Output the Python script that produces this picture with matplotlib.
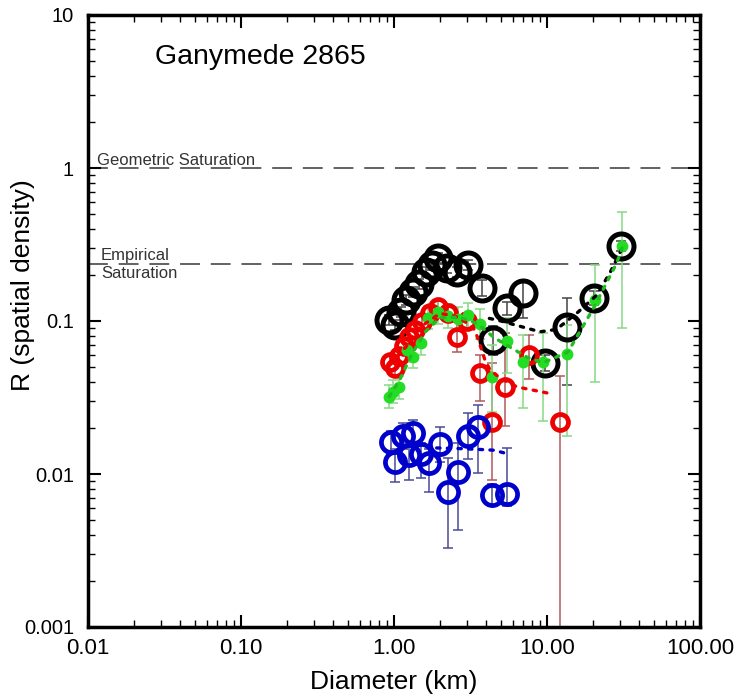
import numpy as np
import matplotlib
matplotlib.use('Agg')
import matplotlib.pyplot as plt
from matplotlib.ticker import FixedLocator, FixedFormatter, LogLocator, NullFormatter

plt.rcParams['font.family'] = ['Liberation Sans', 'DejaVu Sans']

# ---- data ----
# black: all craters
blk_d = [0.927, 1.015, 1.11, 1.198, 1.331, 1.457, 1.618, 1.771, 1.938, 2.22, 2.58, 3.04,
         3.76, 4.43, 5.47, 6.97, 9.70, 13.5, 20.3, 30.5]
blk_r = [0.1016, 0.0942, 0.1145, 0.137, 0.155, 0.1746, 0.209, 0.232, 0.258, 0.222, 0.209, 0.232,
         0.164, 0.0751, 0.1216, 0.1525, 0.0531, 0.0914, 0.1413, 0.309]
blk_lo = [0.094, 0.087, 0.106, 0.127, 0.144, 0.162, 0.194, 0.215, 0.240, 0.205, 0.193, 0.214,
          0.145, 0.060, 0.110, 0.105, 0.047, 0.038, 0.128, 0.285]
blk_hi = [0.110, 0.102, 0.124, 0.148, 0.167, 0.188, 0.225, 0.250, 0.278, 0.240, 0.226, 0.250,
          0.185, 0.093, 0.134, 0.180, 0.060, 0.141, 0.156, 0.335]
blk_fit_d = [4.2, 5.0, 6.5, 9.0, 11.5, 15.9, 21.2, 26.0, 30.5]
blk_fit_r = [0.104, 0.100, 0.093, 0.085, 0.088, 0.114, 0.148, 0.21, 0.29]

# red
red_d = [0.942, 1.015, 1.078, 1.162, 1.253, 1.372, 1.523, 1.718, 1.938, 2.25, 2.58, 3.0,
         3.65, 4.37, 5.31, 7.62, 12.15]
red_r = [0.054, 0.0493, 0.059, 0.0687, 0.0786, 0.0873, 0.0984, 0.1128, 0.1235, 0.1128, 0.0786, 0.100,
         0.0457, 0.0219, 0.037, 0.060, 0.0219]
red_lo = [0.048, 0.044, 0.053, 0.062, 0.071, 0.079, 0.089, 0.102, 0.112, 0.102, 0.063, 0.090,
          0.030, 0.0091, 0.0205, 0.042, 1e-5]
red_hi = [0.060, 0.055, 0.065, 0.076, 0.087, 0.097, 0.109, 0.125, 0.137, 0.125, 0.098, 0.112,
          0.060, 0.053, 0.083, 0.081, 0.0437]
red_fit_d = [0.95, 1.2, 1.5, 2.0, 2.5, 3.0, 3.38, 3.65, 3.93, 4.24, 4.93, 6.36, 10.1]
red_fit_r = [0.052, 0.068, 0.092, 0.112, 0.108, 0.097, 0.0874, 0.0695, 0.0557, 0.048, 0.0424, 0.0371, 0.0338]

# green
grn_d = [0.927, 0.985, 1.078, 1.216, 1.331, 1.501, 1.668, 1.938, 2.25, 2.62, 3.04, 3.65,
         4.37, 5.47, 6.97, 9.41, 13.5, 20.6, 30.9]
grn_r = [0.0319, 0.0343, 0.0371, 0.0646, 0.0582, 0.0718, 0.1047, 0.1145, 0.1078, 0.103, 0.1095, 0.0956,
         0.043, 0.074, 0.054, 0.054, 0.0609, 0.137, 0.309]
grn_lo = [0.027, 0.029, 0.031, 0.054, 0.049, 0.060, 0.088, 0.096, 0.090, 0.086, 0.092, 0.076,
          0.0255, 0.046, 0.027, 0.0222, 0.0177, 0.040, 0.090]
grn_hi = [0.038, 0.041, 0.044, 0.077, 0.070, 0.086, 0.125, 0.137, 0.129, 0.123, 0.131, 0.120,
          0.070, 0.105, 0.081, 0.083, 0.094, 0.232, 0.515]
grn_fit_d = [0.93, 1.1, 1.3, 1.6, 2.0, 2.6, 3.2, 3.65, 4.5, 5.72, 7.4, 9.4, 13.7, 20.0, 28.6, 30.9]
grn_fit_r = [0.032, 0.042, 0.060, 0.085, 0.105, 0.106, 0.100, 0.093, 0.078, 0.0676, 0.058, 0.0533, 0.0627, 0.12, 0.24, 0.30]

# blue
blu_d = [0.956, 1.015, 1.145, 1.253, 1.331, 1.501, 1.694, 1.997, 2.25, 2.62, 3.04, 3.54, 4.37, 5.47]
blu_r = [0.0162, 0.01197, 0.0177, 0.0133, 0.01854, 0.01352, 0.0118, 0.0157, 0.00762, 0.0103, 0.0177, 0.0203,
         0.0073, 0.0074]
blu_lo = [0.0135, 0.0089, 0.0145, 0.0092, 0.015, 0.0094, 0.0076, 0.012, 0.0033, 0.0043, 0.0125, 0.0102,
          0.0062, 0.0062]
blu_hi = [0.019, 0.0145, 0.0216, 0.016, 0.0225, 0.016, 0.0145, 0.0203, 0.0127, 0.0159, 0.0251, 0.0282,
          0.0086, 0.0148]
blu_fit_d = [1.9, 2.5, 3.0, 3.5, 4.0, 4.5, 5.3]
blu_fit_r = [0.0148, 0.0147, 0.0146, 0.0145, 0.0144, 0.0143, 0.0137]

geo_sat = 1.0
emp_sat = 0.236

xticks = [0.01, 0.1, 1, 10, 100]
xtick_labels = ['0.01', '0.10', '1.00', '10.00', '100.00']
yticks = [0.001, 0.01, 0.1, 1, 10]
ytick_labels = ['0.001', '0.01', '0.1', '1', '10']


def yerr(r, lo, hi):
    r = np.array(r)
    return [r - np.array(lo), np.array(hi) - r]


fig = plt.figure(figsize=(7.35, 7.0), dpi=100)
ax = fig.add_axes([88/735, 1 - 627/700, 612/735, 612/700])
ax.set_xscale('log')
ax.set_yscale('log')
ax.set_xlim(0.01, 100)
ax.set_ylim(0.001, 10)

# saturation lines
ax.axhline(geo_sat, color='#555555', lw=1.3, dashes=(11, 6), zorder=1)
ax.axhline(emp_sat, color='#555555', lw=1.3, dashes=(11, 6), zorder=1)
ax.text(0.01145, 1.046, 'Geometric Saturation', fontsize=12, color='#333333', va='baseline')
ax.text(0.01216, 0.2505, 'Empirical', fontsize=12, color='#333333', va='baseline')
ax.text(0.01216, 0.191, 'Saturation', fontsize=12, color='#333333', va='baseline')

ax.text(0.0274, 5.32, 'Ganymede 2865', fontsize=20.5, va='center', ha='left')

# error bars
ekw = dict(fmt='none', capsize=3.5, elinewidth=1.1, capthick=1.1, zorder=2)
ax.errorbar(blk_d, blk_r, yerr=yerr(blk_r, blk_lo, blk_hi), ecolor='#444444', **ekw)
ax.errorbar(red_d, red_r, yerr=yerr(red_r, red_lo, red_hi), ecolor='#b05a5a', **ekw)
ax.errorbar(grn_d, grn_r, yerr=yerr(grn_r, grn_lo, grn_hi), ecolor='#88d888', **ekw)
ax.errorbar(blu_d, blu_r, yerr=yerr(blu_r, blu_lo, blu_hi), ecolor='#4a4a96', **ekw)

# markers
ax.plot(blk_d, blk_r, 'o', ms=18, mfc='none', mec='black', mew=3.6, zorder=3)
ax.plot(red_d, red_r, 'o', ms=11.5, mfc='none', mec='#ee0000', mew=3.4, zorder=4)
ax.plot(blu_d, blu_r, 'o', ms=14.5, mfc='none', mec='#0000cc', mew=3.4, zorder=4)
ax.plot(grn_d, grn_r, 'o', ms=7.5, mfc='#22dd22', mec='#22dd22', zorder=5)

# dotted fits
dot = dict(lw=2.4, dashes=(1, 2.2), dash_capstyle='round', zorder=6)
ax.plot(blk_fit_d, blk_fit_r, color='black', **dot)
ax.plot(red_fit_d, red_fit_r, color='#ee0000', **dot)
ax.plot(grn_fit_d, grn_fit_r, color='#22bb22', **dot)
ax.plot(blu_fit_d, blu_fit_r, color='#0000cc', **dot)

# axes styling
for s in ax.spines.values():
    s.set_linewidth(2.5)
ax.xaxis.set_major_locator(FixedLocator(xticks))
ax.xaxis.set_major_formatter(FixedFormatter(xtick_labels))
ax.yaxis.set_major_locator(FixedLocator(yticks))
ax.yaxis.set_major_formatter(FixedFormatter(ytick_labels))
ax.xaxis.set_minor_locator(LogLocator(base=10, subs=np.arange(2, 10), numticks=20))
ax.yaxis.set_minor_locator(LogLocator(base=10, subs=np.arange(2, 10), numticks=20))
ax.xaxis.set_minor_formatter(NullFormatter())
ax.yaxis.set_minor_formatter(NullFormatter())
ax.tick_params(which='both', direction='in', top=True, right=True)
ax.tick_params(which='major', length=9, width=1.5)
ax.tick_params(which='minor', length=5, width=1.0)
ax.tick_params(axis='x', labelsize=16, pad=8)
ax.tick_params(axis='y', labelsize=14.5, pad=10)

ax.set_xlabel('Diameter (km)', fontsize=19, labelpad=8)
ax.set_ylabel('R (spatial density)', fontsize=19)
ax.yaxis.set_label_coords(-0.087, 0.559)

fig.savefig('out.png', dpi=100)
